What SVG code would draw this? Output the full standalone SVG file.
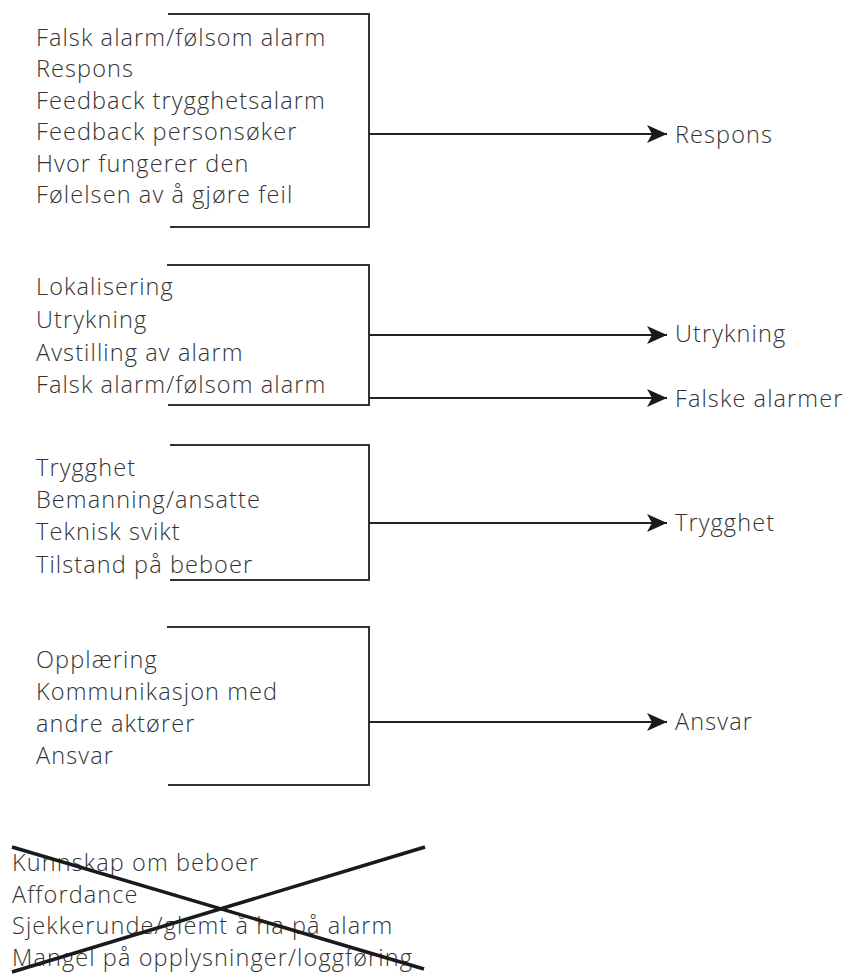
<svg xmlns="http://www.w3.org/2000/svg" width="847" height="974" viewBox="0 0 847 974">
<style>
text{font-family:"Open Sans","Liberation Sans",sans-serif;font-weight:300;font-size:23.5px;letter-spacing:1.1px;fill:#333}
.br{fill:none;stroke:#333;stroke-width:2}
.ar{fill:none;stroke:#222;stroke-width:2}
.x{stroke:#1a1a1a;stroke-width:3.5}
</style>
<defs>
<marker id="ah" markerUnits="userSpaceOnUse" markerWidth="22" markerHeight="20" refX="20" refY="9" orient="auto">
<path d="M0,0 L20,9 L0,18 L5,9 z" fill="#1a1a1a"/>
</marker>
</defs>
<g id="group1">
<path class="br" d="M168,14 H369 V227 H170"/>
<text x="36" y="46">Falsk alarm/følsom alarm</text>
<text x="36" y="77">Respons</text>
<text x="36" y="109">Feedback trygghetsalarm</text>
<text x="36" y="140">Feedback personsøker</text>
<text x="36" y="172">Hvor fungerer den</text>
<text x="36" y="203">Følelsen av å gjøre feil</text>
</g>
<g id="group2">
<path class="br" d="M167,265 H369 V405 H168"/>
<text x="36" y="295">Lokalisering</text>
<text x="36" y="328">Utrykning</text>
<text x="36" y="361">Avstilling av alarm</text>
<text x="36" y="393">Falsk alarm/følsom alarm</text>
</g>
<g id="group3">
<path class="br" d="M170,445 H369 V580 H170"/>
<text x="36" y="476">Trygghet</text>
<text x="36" y="508">Bemanning/ansatte</text>
<text x="36" y="540">Teknisk svikt</text>
<text x="36" y="573">Tilstand på beboer</text>
</g>
<g id="group4">
<path class="br" d="M167,627 H369 V785 H168"/>
<text x="36" y="668">Opplæring</text>
<text x="36" y="700">Kommunikasjon med</text>
<text x="36" y="732">andre aktører</text>
<text x="36" y="764">Ansvar</text>
</g>
<g id="outputs">
<text x="675" y="143">Respons</text>
<text x="675" y="342">Utrykning</text>
<text x="675" y="407">Falske alarmer</text>
<text x="675" y="531">Trygghet</text>
<text x="675" y="730">Ansvar</text>
</g>
<g id="connectors">
<line class="ar" x1="369" y1="134" x2="667" y2="134" marker-end="url(#ah)"/>
<line class="ar" x1="369" y1="335" x2="667" y2="335" marker-end="url(#ah)"/>
<line class="ar" x1="369" y1="398" x2="667" y2="398" marker-end="url(#ah)"/>
<line class="ar" x1="369" y1="523" x2="667" y2="523" marker-end="url(#ah)"/>
<line class="ar" x1="369" y1="722" x2="667" y2="722" marker-end="url(#ah)"/>
</g>
<g id="group5">
<text x="12" y="871">Kunnskap om beboer</text>
<text x="12" y="903">Affordance</text>
<text x="12" y="934">Sjekkerunde/glemt å ha på alarm</text>
<text x="12" y="966">Mangel på opplysninger/loggføring</text>
<line class="x" x1="12" y1="847" x2="424" y2="969"/>
<line class="x" x1="12" y1="972" x2="425" y2="847"/>
</g>
</svg>
